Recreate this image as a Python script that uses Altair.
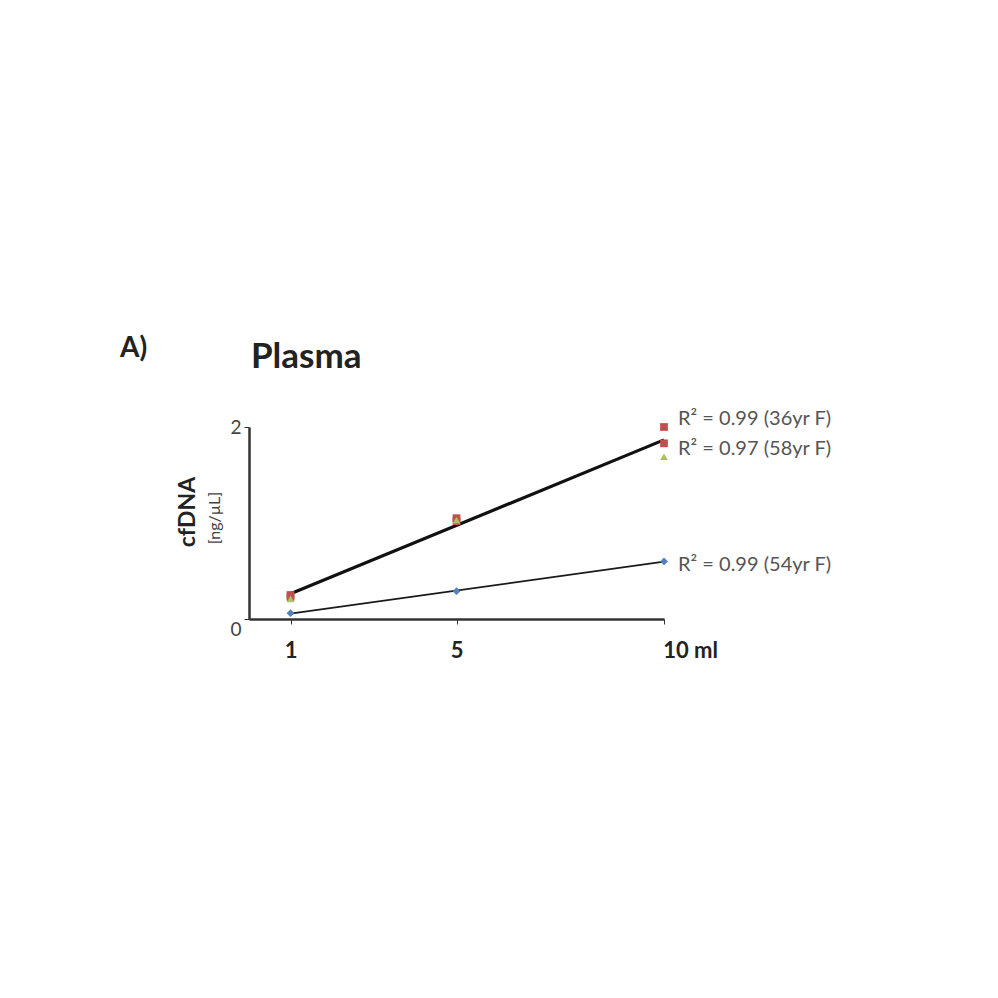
import altair as alt
import pandas as pd

# ---- data ----
x_ml = [1, 5, 10]
series_names = ["54yr F", "36yr F", "36yr F rep", "58yr F"]
cfdna_54 = [0.06, 0.29, 0.60]
cfdna_36 = [0.25, 1.05, 2.00]
cfdna_36_rep = [0.23, 1.02, 1.83]
cfdna_58 = [0.21, 1.03, 1.69]
r2_text = ["R² = 0.99 (36yr F)", "R² = 0.97 (58yr F)", "R² = 0.99 (54yr F)"]
r2_series = ["36yr F", "58yr F", "54yr F"]

values = {"54yr F": cfdna_54, "36yr F": cfdna_36, "36yr F rep": cfdna_36_rep, "58yr F": cfdna_58}
rows = []
for s in series_names:
    for x, v in zip(x_ml, values[s]):
        rows.append({"series": s, "ml": x, "cfdna": v})
df = pd.DataFrame(rows)

lab_rows = []
for s, t in zip(r2_series, r2_text):
    lab_rows.append({"series": s, "ml": x_ml[-1], "cfdna": values[s][-1], "label": t})
labels = pd.DataFrame(lab_rows)

FONT = "Lato"
colors = ["#4f81bd", "#c0504d", "#c0504d", "#a9c064"]
shapes = ["diamond", "square", "square", "triangle-up"]

xenc = alt.X("ml:Q", scale=alt.Scale(domain=[0, 10], nice=False),
             axis=alt.Axis(values=x_ml, title=None, grid=False, labelFlush=False,
                           labelExpr="datum.value == 10 ? '10 ml' : datum.label",
                           labelOffset={"condition": {"test": "datum.value == 10", "value": 26}, "value": 0},
                           labelFont=FONT, labelFontWeight="bold", labelFontSize=22,
                           labelColor="#222", labelPadding=16, tickSize=5,
                           tickColor="#333", domainColor="#333", domainWidth=2.5))
yenc = alt.Y("cfdna:Q", scale=alt.Scale(domain=[0, 2], nice=False),
             axis=alt.Axis(values=[0, 2], title=None, grid=False, labelFlush=False,
                           labelOffset={"condition": {"test": "datum.value == 0", "value": 10}, "value": 0},
                           labelFont=FONT, labelFontSize=19, labelColor="#444",
                           labelPadding=3, tickSize=5, tickColor="#333",
                           domainColor="#333", domainWidth=2.5))

base = alt.Chart(df)

low_line = base.transform_filter("datum.series == '54yr F'").transform_regression(
    "ml", "cfdna").mark_line(color="#1a1a1a", strokeWidth=1.8).encode(x=xenc, y=yenc)
high_line = base.transform_filter("datum.series != '54yr F'").transform_regression(
    "ml", "cfdna").mark_line(color="#111", strokeWidth=3.2).encode(x=xenc, y=yenc)

points = base.mark_point(filled=True, size=60, opacity=1).encode(
    x=xenc, y=yenc,
    color=alt.Color("series:N", scale=alt.Scale(domain=series_names, range=colors), legend=None),
    shape=alt.Shape("series:N", scale=alt.Scale(domain=series_names, range=shapes), legend=None),
)

lab = alt.Chart(labels)
def r2_layer(s, dy):
    return lab.transform_filter(f"datum.series == '{s}'").mark_text(
        align="left", baseline="middle", dx=14, dy=dy, font=FONT, fontSize=20, color="#555"
    ).encode(x=xenc, y=yenc, text="label:N")

ann = alt.Chart(pd.DataFrame({"t": ["A)"]})).mark_text(
    align="left", baseline="alphabetic", font=FONT, fontSize=28, fontWeight="bold", color="#222"
).encode(x=alt.value(-129), y=alt.value(-70), text="t:N")

title = alt.Chart(pd.DataFrame({"t": ["Plasma"]})).mark_text(
    align="left", baseline="alphabetic", font=FONT, fontSize=35, fontWeight="bold", color="#222"
).encode(x=alt.value(2), y=alt.value(-59), text="t:N")

ytitle1 = alt.Chart(pd.DataFrame({"t": ["cfDNA"]})).mark_text(
    angle=270, align="center", baseline="middle", font=FONT, fontSize=23, fontWeight="bold", color="#222"
).encode(x=alt.value(-61), y=alt.value(85), text="t:N")
ytitle2 = alt.Chart(pd.DataFrame({"t": ["[ng/µL]"]})).mark_text(
    angle=270, align="center", baseline="middle", font=FONT, fontSize=16, color="#444"
).encode(x=alt.value(-34), y=alt.value(91), text="t:N")

chart = alt.layer(
    low_line, high_line, points,
    r2_layer("36yr F", -8), r2_layer("58yr F", -8), r2_layer("54yr F", 4),
    ann, title, ytitle1, ytitle2,
).properties(
    width=415, height=192,
    autosize=alt.AutoSizeParams(type="none"),
    padding={"left": 241, "top": 419, "right": 300, "bottom": 300},
).configure(background="white", view=alt.ViewConfig(stroke=None))

chart.save("out.html", embed_options={"renderer": "svg", "actions": False})
